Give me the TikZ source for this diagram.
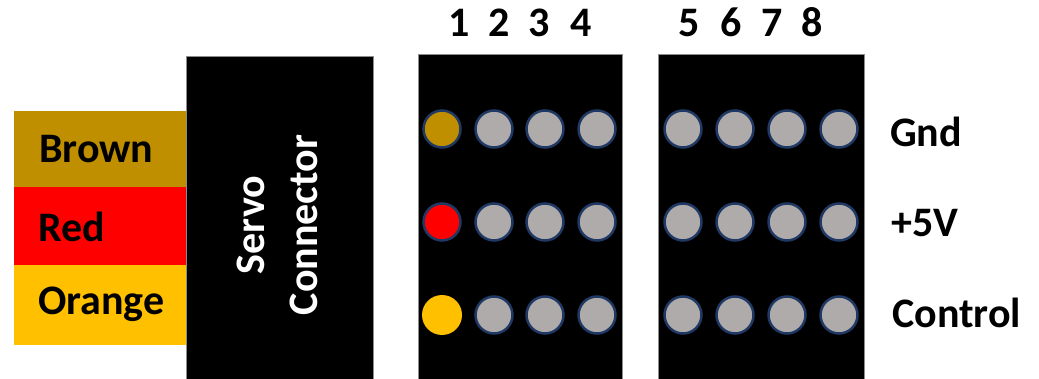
\documentclass[tikz,border=0pt]{standalone}
\usepackage{fontspec}
\setmainfont{Carlito}

\definecolor{wirebrown}{HTML}{BF8F00}
\definecolor{wirered}{HTML}{FF0000}
\definecolor{wireorange}{HTML}{FFC000}
\definecolor{pingray}{HTML}{AFABAB}
\definecolor{pinrim}{HTML}{1F3864}

\tikzset{
  pin/.style={circle, fill=pingray, draw=pinrim, line width=2.5pt, minimum size=37pt, inner sep=0pt},
  lbl/.style={font=\bfseries\fontsize{42}{53}\selectfont, inner sep=0pt},
  housing/.style={fill=black, draw=black!45, line width=0.6pt}
}

\begin{document}
\begin{tikzpicture}[x=1pt,y=-1pt]
\useasboundingbox (0,0) rectangle (1039,379);

    % wire colours
    \fill[wirebrown]  (14,111) rectangle (186,187);
    \fill[wirered]    (14,187) rectangle (186,265);
    \fill[wireorange] (14,265) rectangle (186,345);
    \node[lbl, anchor=base west] (brown) at (39,163) {Brown};
    \node[lbl, anchor=base west] (red) at (38,242) {Red};
    \node[lbl, anchor=base west] (orange) at (38,315) {Orange};

    % servo plug
    \draw[housing] (186,56) rectangle (373,380);
    \node[lbl, text=white, rotate=90, align=center] (servo) at (277,225) {Servo\\Connector};

    % headers
    \draw[housing] (418,54) rectangle (622,380);
    \draw[housing] (658,54) rectangle (864,380);

    \foreach \n/\x in {1/459,2/499,3/539,4/581,5/689,6/731,7/772,8/812}
        \node[lbl, anchor=base] (n\n) at (\x,37) {\n};

    \foreach \r/\y in {1/129,2/222,3/315}{
        \foreach \c/\x in {2/494,3/545,4/597,5/683,6/735,7/787,8/839}
            \node[pin] (p\r\c) at (\x,\y) {};
    }
    \node[pin, fill=wirebrown] (p11) at (442,129) {};
    \node[pin, fill=wirered] (p21) at (442,222) {};
    \node[pin, fill=wireorange, draw=none, minimum size=40pt] (p31) at (442,315) {};

    % signal names
    \node[lbl, anchor=base west] (gnd) at (890,147) {Gnd};
    \node[lbl, anchor=base west] (vcc) at (891,237) {+5V};
    \node[lbl, anchor=base west] (ctl) at (892,327) {Control};

\end{tikzpicture}
\end{document}
